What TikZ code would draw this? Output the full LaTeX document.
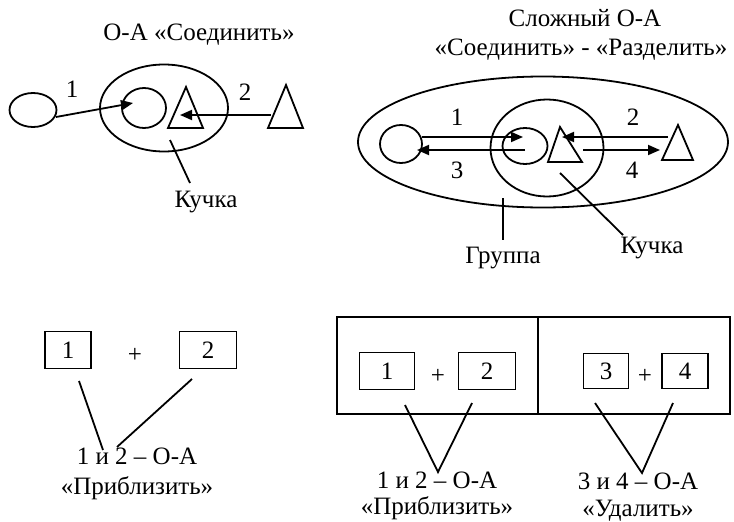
\documentclass[tikz,border=0pt]{standalone}
\usepackage{fontspec}
\setmainfont{Liberation Serif}
\usetikzlibrary{arrows.meta,shapes.geometric}
\begin{document}
\begin{tikzpicture}[x=1pt,y=-1pt,line width=1.8pt,
  txt/.style={font=\fontsize{25}{30}\selectfont,inner sep=0pt,anchor=base},
  oval/.style={draw,ellipse,inner sep=0pt},
  numbox/.style={draw,rectangle,inner sep=0pt,font=\fontsize{25}{30}\selectfont},
  frame/.style={draw,rectangle,inner sep=0pt},
  arr/.style={-{Triangle[length=12pt,width=10pt]}},
  tri/.style={line join=miter}]
\useasboundingbox (0,0) rectangle (734,522);
% ---------- top left ----------
\node[txt] (t1) at (199,40) {О-А «Соединить»};
\node[oval,minimum width=47,minimum height=34] (a) at (33,110) {};
\node[oval,minimum width=128,minimum height=87] (k) at (164,108) {};
\node[oval,minimum width=44,minimum height=40] (b) at (144,108) {};
\draw[tri] (168,128) -- (186,87) -- (203,128) -- cycle;
\draw[tri] (268,128) -- (286,85) -- (303,128) -- cycle;
\coordinate (a1s) at (56,117); \coordinate (a1e) at (133,103);
\coordinate (a2s) at (271,115); \coordinate (a2e) at (180,115);
\draw[arr] (a1s) -- (a1e);
\draw[arr] (a2s) -- (a2e);
\node[txt] (l1) at (72,97) {1};
\node[txt] (l2) at (245,100) {2};
\node[txt] (ku1) at (206,207) {Кучка};
\coordinate (ku1p) at (170,140); \coordinate (ku1q) at (190,183);
\draw (ku1p) -- (ku1q);
% ---------- top right ----------
\node[txt] (t2a) at (585,27) {Сложный О-А};
\node[txt] (t2b) at (581,55) {«Соединить» - «Разделить»};
\node[oval,minimum width=370,minimum height=131] (g) at (543,142) {};
\node[oval,minimum width=113,minimum height=97] (k2) at (547,148) {};
\node[oval,minimum width=42,minimum height=38] (c) at (401,144) {};
\node[oval,minimum width=45,minimum height=36] (d) at (525,146) {};
\draw[tri] (548,162) -- (560,127) -- (582,162) -- cycle;
\draw[tri] (662,160) -- (678,125) -- (693,160) -- cycle;
\coordinate (r1s) at (422,137); \coordinate (r1e) at (523,137);
\coordinate (r3s) at (525,150); \coordinate (r3e) at (417,150);
\coordinate (r2s) at (668,137); \coordinate (r2e) at (562,137);
\coordinate (r4s) at (583,150); \coordinate (r4e) at (660,150);
\draw[arr] (r1s) -- (r1e);
\draw[arr] (r3s) -- (r3e);
\draw[arr] (r2s) -- (r2e);
\draw[arr] (r4s) -- (r4e);
\node[txt] (m1) at (457,125) {1};
\node[txt] (m2) at (633,125) {2};
\node[txt] (m3) at (457,178) {3};
\node[txt] (m4) at (632,178) {4};
\node[txt] (gr) at (503,263) {Группа};
\coordinate (grp) at (503,198); \coordinate (grq) at (503,240);
\draw (grp) -- (grq);
\node[txt] (ku2) at (652,253) {Кучка};
\coordinate (ku2p) at (560,173); \coordinate (ku2q) at (623,235);
\draw (ku2p) -- (ku2q);
% ---------- bottom left ----------
\node[numbox,minimum width=46,minimum height=37] (b1) at (68,350) {1};
\node[txt] (pl1) at (135,362) {+};
\node[numbox,minimum width=57,minimum height=37] (b2) at (208,350) {2};
\coordinate (s1a) at (79,381); \coordinate (s1b) at (103,450);
\coordinate (s2a) at (192,379); \coordinate (s2b) at (117,447);
\draw (s1a) -- (s1b);
\draw (s2a) -- (s2b);
\node[txt] (q1) at (137,464) {1 и 2 – О-А};
\node[txt] (q2) at (137,494) {«Приблизить»};
% ---------- bottom right ----------
\node[frame,minimum width=201,minimum height=97] (fl) at (437.5,365.5) {};
\node[frame,minimum width=192,minimum height=97] (fr) at (634,365.5) {};
\node[numbox,minimum width=55,minimum height=37] (c1) at (387,371) {1};
\node[txt] (pl2) at (438,383) {+};
\node[numbox,minimum width=57,minimum height=37] (c2) at (487,371) {2};
\node[numbox,minimum width=45,minimum height=35] (c3) at (606,371) {3};
\node[txt] (pl3) at (645,383) {+};
\node[numbox,minimum width=46,minimum height=35] (c4) at (685,371) {4};
\coordinate (v1a) at (405,405); \coordinate (v1b) at (438,472); \coordinate (v1c) at (472,403);
\coordinate (v2a) at (595,403); \coordinate (v2b) at (642,473); \coordinate (v2c) at (673,403);
\draw[line join=miter] (v1a) -- (v1b) -- (v1c);
\draw[line join=miter] (v2a) -- (v2b) -- (v2c);
\node[txt] (r1) at (437,488) {1 и 2 – О-А};
\node[txt] (r2) at (437,514) {«Приблизить»};
\node[txt] (r3) at (638,489) {3 и 4 – О-А};
\node[txt] (r4) at (638,516) {«Удалить»};
\end{tikzpicture}
\end{document}
